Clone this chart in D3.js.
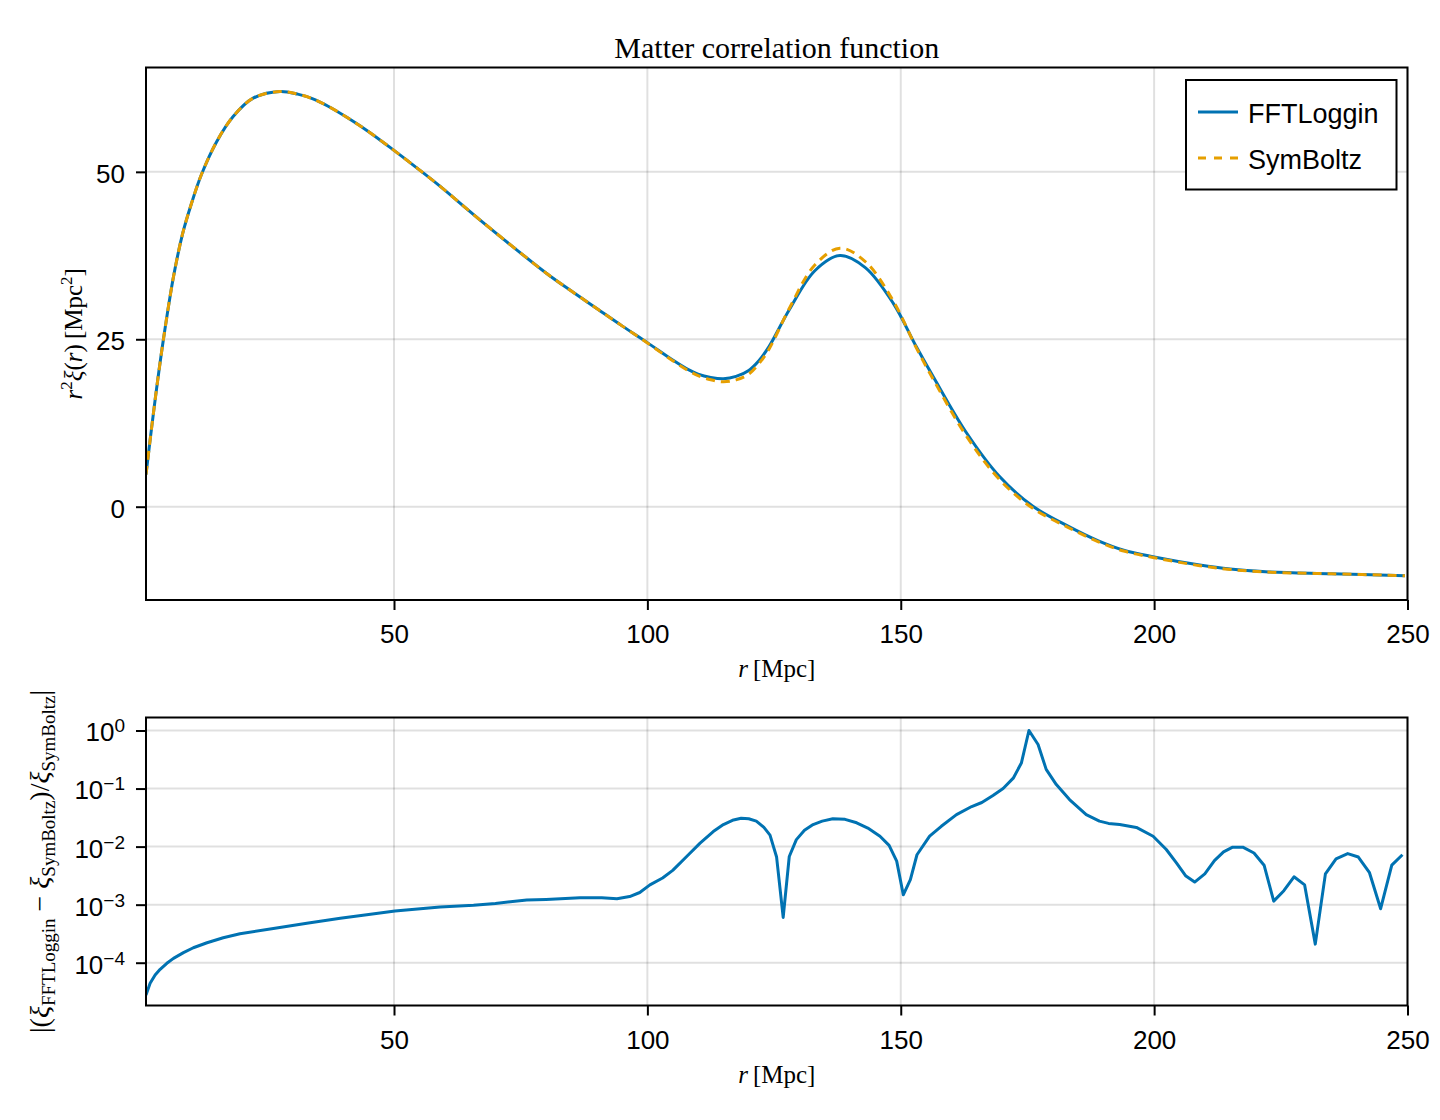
<!DOCTYPE html>
<html>
<head>
<meta charset="utf-8">
<script src="https://cdn.jsdelivr.net/npm/d3@7"></script>
<style>
  body { margin: 0; background: #fff; }
</style>
</head>
<body>
<div id="vis"></div>
<script>
var width = 1440,
  height = 1120;

// top panel, r^2 xi(r) [Mpc^2]
var rTop = [1.06, 2.2, 3.3, 4.5, 6.5, 8.3, 10, 12, 15, 18.3, 22.2, 27.5, 31, 34, 37, 41, 45, 50, 55, 59, 67,
  80, 85, 90, 95, 100, 105, 108, 110, 112.5, 115, 117.5, 120, 122, 124, 128, 133, 138, 143, 148.5, 153, 156.5,
  163, 169.5, 176, 183, 189, 194, 200, 209, 215, 222, 235, 249.5];
var fftTop = [4.8, 12.0, 18.5, 25.0, 34.4, 40.8, 45.2, 49.6, 54.5, 58.3, 61.0, 62.0, 61.6, 60.9, 59.8, 58.0, 56.0, 53.2, 50.3, 47.9, 42.8,
  34.9, 32.2, 29.6, 27.0, 24.5, 21.9, 20.5, 19.8, 19.3, 19.1, 19.45, 20.35, 21.8, 23.9, 29.4, 35.2, 37.5, 35.7, 30.4, 24.0, 19.3,
  11.0, 4.5, 0.1, -2.9, -5.1, -6.5, -7.5, -8.7, -9.3, -9.7, -10.0, -10.3];
var symTop = [4.8, 12.0, 18.5, 25.0, 34.4, 40.8, 45.2, 49.6, 54.5, 58.3, 61.0, 62.0, 61.6, 60.9, 59.8, 58.0, 56.0, 53.2, 50.3, 47.9, 42.8,
  34.9, 32.2, 29.6, 27.0, 24.45, 21.81, 20.35, 19.57, 18.95, 18.65, 18.93, 19.79, 21.35, 23.52, 29.6, 36.05, 38.6, 36.6, 30.75, 23.83, 18.9,
  10.5, 4.05, -0.2, -3.08, -5.24, -6.62, -7.61, -8.8, -9.37, -9.75, -10.02, -10.3];

// bottom panel, |(xi_FFTLoggin - xi_SymBoltz) / xi_SymBoltz|
var rDiff = [1.06, 1.87, 2.86, 3.85, 5.17, 6.48, 8.45, 10.4, 13.1, 16.3, 19.6, 26.2, 32.8, 39.4, 45, 50.2,
  59.1, 65.7, 70, 76.2, 80, 86.7, 91, 94, 96.5, 98.5, 100.5, 103, 105, 108, 110.4, 113, 115, 117, 118.5,
  120, 121.5, 123, 124.2, 125.5, 126.8, 128, 129.4, 131, 132.7, 134.5, 136.6, 139, 141.3, 143.5, 145.9,
  147.7, 149.2, 150.5, 151.9, 153.2, 155.7, 158, 161, 164, 166, 168.2, 170.2, 172.2, 173.8, 175.3, 177.1,
  178.7, 180.7, 183.3, 186.6, 189.2, 191, 193.2, 196.5, 199.8, 202.4, 204.4, 206.2, 208, 210, 211.9,
  213.7, 215.5, 217.5, 219.7, 221.7, 223.6, 225.6, 227.6, 229.7, 231.8, 233.8, 235.9, 238.2, 240.3,
  242.5, 244.7, 246.9, 249];
var relDiff = [2.78e-5, 4.42e-5, 6.14e-5, 7.69e-5, 9.77e-5, 1.19e-4, 1.49e-4, 1.81e-4, 2.21e-4, 2.69e-4, 3.16e-4,
  3.89e-4, 4.79e-4, 5.81e-4, 6.76e-4, 7.76e-4, 9.12e-4, 9.77e-4, 1.05e-3, 1.20e-3, 1.23e-3, 1.32e-3, 1.32e-3,
  1.26e-3, 1.38e-3, 1.62e-3, 2.19e-3, 2.88e-3, 3.89e-3, 7.1e-3, 1.15e-2, 1.82e-2, 2.40e-2, 2.88e-2, 3.09e-2,
  3.02e-2, 2.75e-2, 2.14e-2, 1.58e-2, 6.61e-3, 6.03e-4, 6.76e-3, 1.32e-2, 1.91e-2, 2.40e-2, 2.75e-2, 3.02e-2,
  2.95e-2, 2.57e-2, 2.09e-2, 1.51e-2, 1.05e-2, 5.62e-3, 1.48e-3, 2.69e-3, 7.24e-3, 1.51e-2, 2.24e-2, 3.55e-2,
  4.90e-2, 5.75e-2, 7.59e-2, 0.100, 0.151, 0.275, 1.0, 0.575, 0.214, 0.117, 6.46e-2, 3.55e-2, 2.75e-2, 2.51e-2,
  2.40e-2, 2.14e-2, 1.51e-2, 8.91e-3, 5.25e-3, 3.16e-3, 2.45e-3, 3.39e-3, 5.75e-3, 8.13e-3, 9.77e-3, 9.77e-3,
  7.76e-3, 4.79e-3, 1.15e-3, 1.74e-3, 3.02e-3, 2.19e-3, 2.09e-4, 3.39e-3, 6.17e-3, 7.59e-3, 6.61e-3, 3.55e-3,
  8.51e-4, 4.79e-3, 7.24e-3];

var xTicks = [50, 100, 150, 200, 250];
var yTicksTop = [0, 25, 50];
var yTicksBottom = [1e-4, 1e-3, 1e-2, 1e-1, 1];
var seriesNames = ["FFTLoggin", "SymBoltz"];

var blue = "#0072b2",
  orange = "#e69f00";
var sans = "'Liberation Sans', Arial, sans-serif";
var serif = "'Liberation Serif', 'Times New Roman', serif";

// panel boxes (px)
var left = 146, right = 1407.5;
var top1 = 67.5, bottom1 = 600;
var top2 = 717.5, bottom2 = 1005.5;

var x = d3.scaleLinear().domain([1.06, 250]).range([left, right]);
var yTop = d3.scaleLinear().domain([-13.93, 65.58]).range([bottom1, top1]);
var yBot = d3.scaleLog().domain([Math.pow(10, -4.737), Math.pow(10, 0.224)]).range([bottom2, top2]);

var svg = d3.select("#vis")
  .append("svg")
  .attr("width", width)
  .attr("height", height)
  .style("background", "#fff");

function panel(y, yTicks, top, bottom, id) {
  var g = svg.append("g");

  // grid
  g.selectAll(".vgrid").data(xTicks).enter().append("line")
    .attr("x1", d => x(d)).attr("x2", d => x(d))
    .attr("y1", top).attr("y2", bottom)
    .attr("stroke", "#000").attr("stroke-opacity", 0.12).attr("stroke-width", 2);
  g.selectAll(".hgrid").data(yTicks).enter().append("line")
    .attr("x1", left).attr("x2", right)
    .attr("y1", d => y(d)).attr("y2", d => y(d))
    .attr("stroke", "#000").attr("stroke-opacity", 0.12).attr("stroke-width", 2);

  svg.append("clipPath").attr("id", id)
    .append("rect")
    .attr("x", left).attr("y", top)
    .attr("width", right - left).attr("height", bottom - top);

  // x axis
  var xa = svg.append("g")
    .attr("transform", "translate(0," + bottom + ")")
    .call(d3.axisBottom(x).tickValues(xTicks).tickSize(10).tickSizeOuter(0));
  xa.select(".domain").remove();
  xa.selectAll("line").attr("stroke", "#000").attr("stroke-width", 2);
  xa.selectAll("text")
    .attr("y", 43).attr("dy", 0)
    .attr("font-family", sans).attr("font-size", 26).attr("fill", "#000");

  // y axis
  var ya = svg.append("g")
    .attr("transform", "translate(" + left + ",0)")
    .call(d3.axisLeft(y).tickValues(yTicks).tickSize(10).tickPadding(11).tickSizeOuter(0));
  ya.select(".domain").remove();
  ya.selectAll("line").attr("stroke", "#000").attr("stroke-width", 2);
  ya.selectAll("text")
    .attr("dy", "0.4em")
    .attr("font-family", sans).attr("font-size", 26).attr("fill", "#000");
  return ya;
}

function drawFrame(top, bottom) {
  svg.append("rect")
    .attr("x", left).attr("y", top)
    .attr("width", right - left).attr("height", bottom - top)
    .attr("fill", "none").attr("stroke", "#000").attr("stroke-width", 2);
}

// ---------- top panel ----------
panel(yTop, yTicksTop, top1, bottom1, "clipTop");

var lineTop = d3.line()
  .x(d => x(d[0]))
  .y(d => yTop(d[1]))
  .curve(d3.curveCatmullRom.alpha(0.5));

svg.append("path")
  .datum(d3.zip(rTop, fftTop))
  .attr("clip-path", "url(#clipTop)")
  .attr("d", lineTop)
  .attr("fill", "none").attr("stroke", blue).attr("stroke-width", 3);

svg.append("path")
  .datum(d3.zip(rTop, symTop))
  .attr("clip-path", "url(#clipTop)")
  .attr("d", lineTop)
  .attr("fill", "none").attr("stroke", orange).attr("stroke-width", 3)
  .attr("stroke-dasharray", "9,6");

drawFrame(top1, bottom1);

// title
svg.append("text")
  .attr("x", (left + right) / 2).attr("y", 58)
  .attr("text-anchor", "middle")
  .attr("font-family", serif).attr("font-size", 30)
  .text("Matter correlation function");

// x label (both panels)
function xLabel(yb) {
  var t = svg.append("text")
    .attr("x", (left + right) / 2).attr("y", yb)
    .attr("text-anchor", "middle")
    .attr("font-family", serif).attr("font-size", 25);
  t.append("tspan").attr("font-style", "italic").text("r");
  t.append("tspan").text("\u2009[Mpc]");
}
xLabel(677);

// y label top
var yl = svg.append("text")
  .attr("transform", "translate(82," + (top1 + bottom1) / 2 + ") rotate(-90)")
  .attr("text-anchor", "middle")
  .attr("font-family", serif).attr("font-size", 25);
yl.append("tspan").attr("font-style", "italic").text("r");
yl.append("tspan").attr("font-size", 17).attr("dy", -10).text("2");
yl.append("tspan").attr("font-style", "italic").attr("dy", 10).text("\u03be");
yl.append("tspan").text("(");
yl.append("tspan").attr("font-style", "italic").text("r");
yl.append("tspan").text(")\u2009[Mpc");
yl.append("tspan").attr("font-size", 17).attr("dy", -10).text("2");
yl.append("tspan").attr("dy", 10).text("]");

// legend
var legend = svg.append("g");
legend.append("rect")
  .attr("x", 1186).attr("y", 80)
  .attr("width", 210.5).attr("height", 109.5)
  .attr("fill", "#fff").attr("stroke", "#000").attr("stroke-width", 2);
seriesNames.forEach(function(name, i) {
  var ly = 112 + i * 46;
  legend.append("line")
    .attr("x1", 1198).attr("x2", 1238)
    .attr("y1", ly).attr("y2", ly)
    .attr("stroke", i == 0 ? blue : orange).attr("stroke-width", 3)
    .attr("stroke-dasharray", i == 0 ? null : "8,8");
  legend.append("text")
    .attr("x", 1248).attr("y", ly + 10.5)
    .attr("font-family", sans).attr("font-size", 27)
    .text(name);
});

// ---------- bottom panel ----------
var yaBot = panel(yBot, yTicksBottom, top2, bottom2, "clipBot");

// log tick labels as 10^n
yaBot.selectAll("text").each(function(d) {
  var e = Math.round(Math.log10(d));
  var t = d3.select(this).text("");
  t.append("tspan").text("10");
  t.append("tspan")
    .attr("font-size", 19).attr("dy", -9)
    .text(e < 0 ? "\u2212" + (-e) : e);
});

var lineBot = d3.line()
  .x(d => x(d[0]))
  .y(d => yBot(d[1]));

svg.append("path")
  .datum(d3.zip(rDiff, relDiff))
  .attr("clip-path", "url(#clipBot)")
  .attr("d", lineBot)
  .attr("fill", "none").attr("stroke", blue).attr("stroke-width", 3)
  .attr("stroke-linejoin", "round");

drawFrame(top2, bottom2);
xLabel(1082.5);

// y label bottom
var yb = svg.append("text")
  .attr("transform", "translate(49," + (top2 + bottom2) / 2 + ") rotate(-90)")
  .attr("text-anchor", "middle")
  .attr("font-family", serif).attr("font-size", 28);
yb.append("tspan").text("|(");
yb.append("tspan").attr("font-style", "italic").text("\u03be");
yb.append("tspan").attr("font-size", 19).attr("dy", 6).text("FFTLoggin");
yb.append("tspan").attr("dy", -6).text(" \u2212 ");
yb.append("tspan").attr("font-style", "italic").text("\u03be");
yb.append("tspan").attr("font-size", 19).attr("dy", 6).text("SymBoltz");
yb.append("tspan").attr("dy", -6).text(")/");
yb.append("tspan").attr("font-style", "italic").text("\u03be");
yb.append("tspan").attr("font-size", 19).attr("dy", 6).text("SymBoltz");
yb.append("tspan").attr("dy", -6).text("|");
</script>
</body>
</html>
